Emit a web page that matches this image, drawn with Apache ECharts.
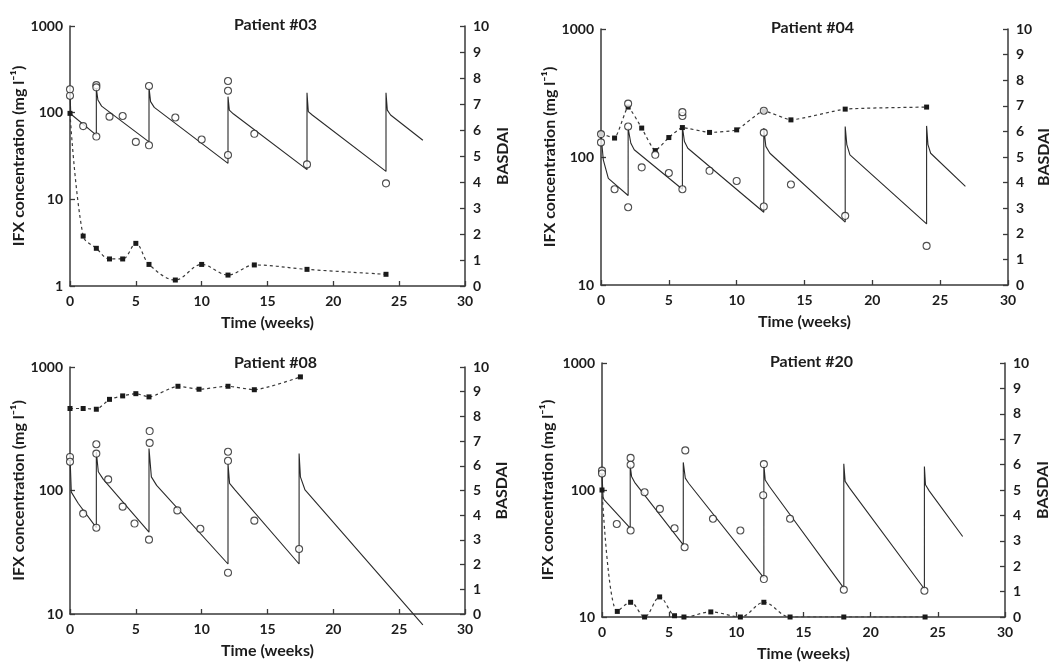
<!DOCTYPE html>
<html><head><meta charset="utf-8">
<script src="https://cdn.jsdelivr.net/npm/echarts@6/dist/echarts.min.js"></script>
<style>html,body{margin:0;padding:0;background:#fff}#c{width:1056px;height:663px}</style>
</head><body><div id="c"></div>
<script>
// ---- labels / ticks ----
const patients = ['Patient #03', 'Patient #04', 'Patient #08', 'Patient #20'];
const xName = 'Time (weeks)';
const yLeftName = 'IFX concentration (mg l\u207B\u00B9)';
const yRightName = 'BASDAI';
const xTicks = [0, 5, 10, 15, 20, 25, 30];
const leftMin = [1, 10, 10, 10];
const leftMax = [1000, 1000, 1000, 1000];
const basdaiTicks = [0, 1, 2, 3, 4, 5, 6, 7, 8, 9, 10];

// ---- Patient #03 ----
const p03Basdai = [[0,6.64],[1,1.92],[2,1.45],[3,1.04],[4,1.04],[5,1.64],[6,0.83],[8,0.23],[10,0.83],[12,0.42],[14,0.81],[18,0.64],[24,0.45]];
const p03Obs = [[0,157],[0,186],[1,70],[2,53],[2,208],[2,196],[3,90],[4,91.5],[5,46],[6,42],[6,203],[8,88],[10,49],[12,32.5],[12,179],[12,232],[14,57],[18,25.3],[24,15.3]];
const p03Model = [[0,180],[0.05,105],[0.15,94],[2,55],[2,191],[2.12,140],[2.4,119],[6,46],[6,196],[6.12,134],[6.4,115],[12,26],[12,153],[12.1,107],[12.4,97],[18,22],[18,170],[18.1,103],[18.4,94],[24,21],[24,170],[24.1,107],[24.35,94],[26.8,48]];

// ---- Patient #04 ----
const p04Basdai = [[0,5.91],[1,5.74],[2,6.95],[3,6.13],[4,5.25],[5,5.76],[6,6.15],[8,5.96],[10,6.06],[12,6.8],[14,6.45],[18,6.87],[24,6.95]];
const p04Obs = [[0,130],[0,151],[1,56],[2,40.5],[2,173],[2,261],[3,83],[4,104],[5,75],[6,56],[6,209],[6,224],[8,78],[10,65],[12,41],[12,155],[12,230],[14,61],[18,34.7],[24,20.2]];
const p04Model = [[0,150],[0.17,95],[0.54,68],[2,50],[2,168],[2.2,128],[2.45,114],[6,56],[6,173],[6.15,132],[6.4,117],[12,37],[12,168],[12.15,121],[12.45,107],[18,31],[18,173],[18.12,125],[18.35,104],[24,30],[24,175],[24.1,125],[24.3,107],[26.86,59]];

// ---- Patient #08 ----
const p08Basdai = [[0,8.32],[1,8.32],[2,8.29],[3,8.69],[4,8.83],[5,8.92],[6,8.79],[8.2,9.22],[9.8,9.1],[12,9.22],[14,9.08],[17.5,9.6]];
const p08Obs = [[0,187],[0,171],[1,65],[2,237],[2,199],[2,50],[2.9,123],[4,74],[4.9,54],[6.05,303],[6.05,243],[6,40],[8.15,69],[9.9,49],[12,206],[12,174],[12,21.6],[14,57],[17.4,33.6]];
const p08Model = [[0,190],[0.1,97],[0.63,78.5],[2,50],[2,206],[2.15,142],[2.53,123],[6,46],[6,219],[6.18,129],[6.58,110],[12,25.4],[12,165],[12.12,114],[12.53,101],[17.4,25.4],[17.4,199],[17.5,129],[17.85,101],[26.8,8.15]];

// ---- Patient #20 ----
const p20Basdai = [[0,5.0],[1.14,0.22],[2.13,0.58],[3.17,0],[4.29,0.79],[5.4,0.05],[6.1,0],[8.1,0.2],[10.3,0],[12.05,0.58],[14,0],[18,0],[24.05,0]];
const p20Obs = [[0,142],[0,135],[1.1,54],[2.13,179],[2.13,158],[2.13,48],[3.17,96],[4.31,71],[5.4,50],[6.2,205],[6.15,35.4],[8.26,59.4],[10.3,48],[12.05,160],[12,91],[12.05,19.9],[14,59.4],[18,16.4],[24,16.1]];
const p20Model = [[0,135],[0.08,88],[0.15,84],[2.1,50],[2.1,156],[2.2,128],[2.43,115],[6.05,37],[6.05,165],[6.2,124],[6.45,113],[12.05,20.3],[12.05,158],[12.15,120],[12.45,107],[18,16.9],[18,161],[18.1,117],[18.42,104],[24,16.6],[24,153],[24.08,110],[24.37,98],[26.85,43]];

const basdaiSets = [p03Basdai, p04Basdai, p08Basdai, p20Basdai];
const obsSets = [p03Obs, p04Obs, p08Obs, p20Obs];
const modelSets = [p03Model, p04Model, p08Model, p20Model];

// ---- layout ----
const grids = [
  {left: 70, top: 26, width: 395, height: 260},
  {left: 601, top: 29, width: 407, height: 256},
  {left: 70, top: 367, width: 395, height: 247},
  {left: 602, top: 363, width: 403, height: 254}
];
const titleTop = [12, 15, 350, 349];
const leftGap = [42, 40, 42, 46];
const rightGap = [30, 27, 29, 30];
const smoothing = [0.35, 0.15, 0.2, 0.35];

const FONT = 'Lato';
const INK = '#1c1c1c';
const AX = '#3a3a3a';
const txt = (size) => ({color: INK, fontFamily: FONT, fontWeight: 'bold', fontSize: size});

const option = {
  backgroundColor: '#fff',
  animation: false,
  title: [], grid: [], xAxis: [], yAxis: [], series: []
};

grids.forEach((g, i) => {
  option.grid.push({left: g.left, top: g.top, width: g.width, height: g.height, containLabel: false});
  option.title.push({
    text: patients[i], left: g.left + g.width / 2 + 3, top: titleTop[i], textAlign: 'center',
    textStyle: txt(16)
  });
  const axisLine = {show: true, lineStyle: {color: AX, width: 1.5}};
  const axisTick = {show: true, inside: true, length: 5, lineStyle: {color: AX, width: 1.3}};
  option.xAxis.push({
    gridIndex: i, type: 'value', min: xTicks[0], max: xTicks[xTicks.length - 1], interval: xTicks[1] - xTicks[0],
    axisLine, axisTick, splitLine: {show: false},
    axisLabel: Object.assign({margin: 8}, txt(14)),
    name: xName, nameLocation: 'middle', nameGap: 29, nameTextStyle: txt(16)
  });
  option.yAxis.push({
    gridIndex: i, type: 'log', logBase: 10, min: leftMin[i], max: leftMax[i], position: 'left',
    axisLine, axisTick, splitLine: {show: false}, minorTick: {show: false},
    axisLabel: Object.assign({margin: 7, formatter: v => String(Math.round(v))}, txt(14)),
    name: yLeftName, nameLocation: 'middle', nameGap: leftGap[i], nameRotate: 90, nameTextStyle: txt(16)
  });
  option.yAxis.push({
    gridIndex: i, type: 'value', min: basdaiTicks[0], max: basdaiTicks[basdaiTicks.length - 1], interval: 1, position: 'right',
    axisLine, axisTick, splitLine: {show: false},
    axisLabel: Object.assign({margin: 8}, txt(14)),
    name: yRightName, nameLocation: 'middle', nameGap: rightGap[i], nameRotate: 90, nameTextStyle: txt(16)
  });
  option.series.push({
    type: 'line', xAxisIndex: i, yAxisIndex: 2 * i, data: modelSets[i], symbol: 'none',
    lineStyle: {color: '#2a2a2a', width: 1.1}, clip: false, z: 2, silent: true
  });
  option.series.push({
    type: 'line', xAxisIndex: i, yAxisIndex: 2 * i + 1, data: basdaiSets[i], smooth: smoothing[i],
    symbol: 'rect', symbolSize: 5, itemStyle: {color: '#1a1a1a'},
    lineStyle: {color: '#3a3a3a', width: 1.2, type: [3, 3]}, z: 3, silent: true
  });
  option.series.push({
    type: 'scatter', xAxisIndex: i, yAxisIndex: 2 * i, data: obsSets[i], symbol: 'circle', symbolSize: 7,
    itemStyle: {color: '#fff', borderColor: '#222', borderWidth: 1.1}, z: 4, silent: true
  });
});

const chart = echarts.init(document.getElementById('c'), null, {renderer: 'canvas'});
chart.setOption(option);
</script>
</body></html>
